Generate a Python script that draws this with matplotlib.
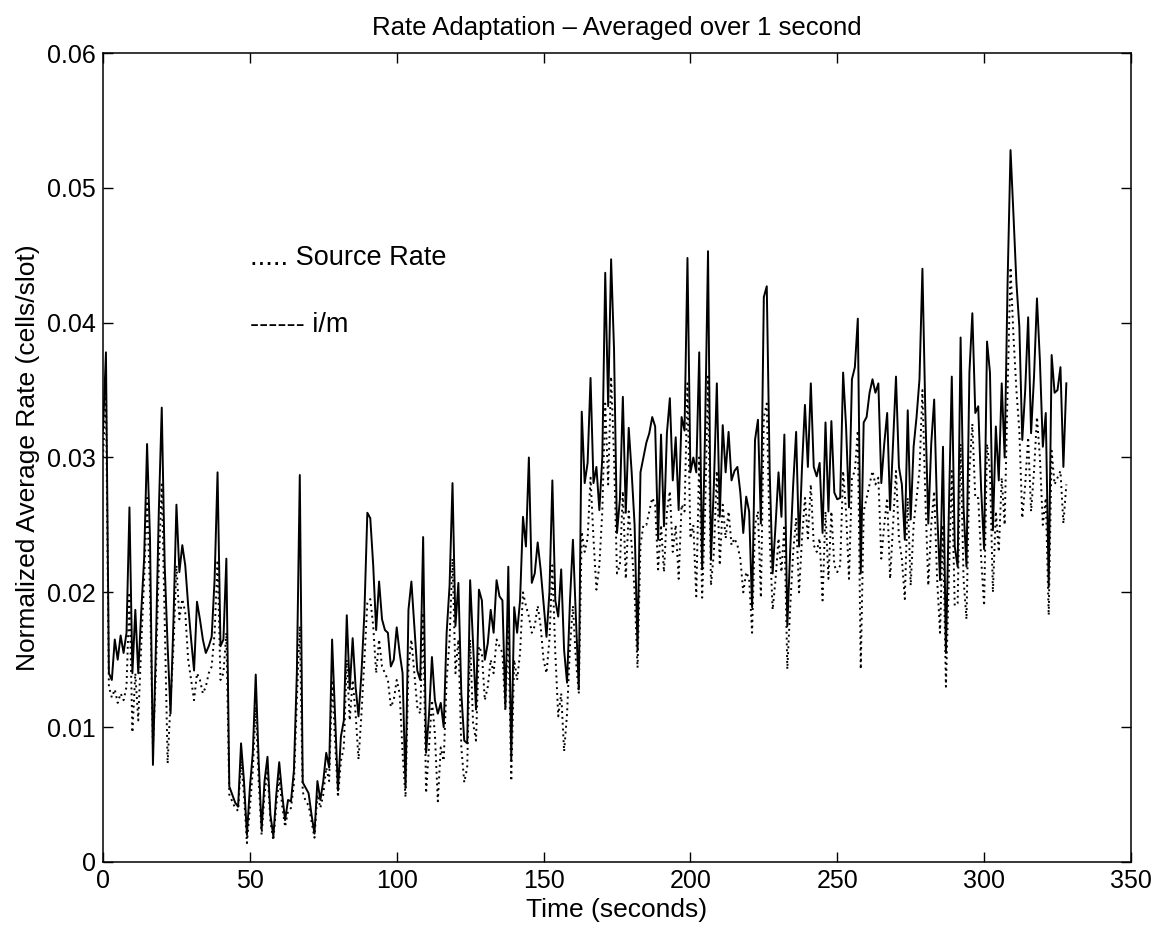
import numpy as np
import matplotlib
matplotlib.use('Agg')
import matplotlib.pyplot as plt

plt.rcParams['font.family'] = ['Liberation Sans', 'DejaVu Sans']

# i/m rate, one value per second (t = 0..328)
im_rate = [
    0.032, 0.0378, 0.014, 0.0135, 0.0165, 0.015, 0.0168, 0.0155, 0.017, 0.0263,
    0.014, 0.0187, 0.014, 0.0185, 0.0225, 0.031, 0.024, 0.0072, 0.016, 0.026,
    0.0337, 0.022, 0.016, 0.011, 0.018, 0.0265, 0.0215, 0.0235, 0.022, 0.019,
    0.0165, 0.0142, 0.0193, 0.018, 0.0165, 0.0155, 0.016, 0.0167, 0.021, 0.0289,
    0.016, 0.0165, 0.0225, 0.0056, 0.005, 0.0044, 0.0041, 0.0088, 0.006, 0.002,
    0.0055, 0.0081, 0.0139, 0.0075, 0.0024, 0.006, 0.0078, 0.0035, 0.0019, 0.005,
    0.0074, 0.005, 0.0031, 0.0046, 0.0045, 0.0068, 0.014, 0.0287, 0.0059, 0.0055,
    0.0051, 0.0035, 0.0021, 0.006, 0.0046, 0.006, 0.0081, 0.007, 0.0165, 0.011,
    0.0053, 0.0093, 0.0105, 0.0183, 0.0128, 0.0166, 0.013, 0.0108, 0.014, 0.0185,
    0.0259, 0.0255, 0.022, 0.0172, 0.0208, 0.018, 0.0172, 0.017, 0.0145, 0.015,
    0.0174, 0.0155, 0.014, 0.0055, 0.0187, 0.0208, 0.0175, 0.0142, 0.0135, 0.0241,
    0.0081, 0.0109, 0.0152, 0.012, 0.011, 0.0118, 0.01, 0.017, 0.0205, 0.0281,
    0.0175, 0.0207, 0.0125, 0.009, 0.0088, 0.0209, 0.0162, 0.0113, 0.0202, 0.0194,
    0.015, 0.0162, 0.0187, 0.017, 0.0209, 0.0197, 0.0194, 0.0115, 0.0219, 0.0076,
    0.0189, 0.017, 0.0194, 0.0256, 0.0234, 0.030, 0.0207, 0.0214, 0.0237, 0.0217,
    0.0192, 0.0167, 0.020, 0.0283, 0.0194, 0.0182, 0.0217, 0.0157, 0.0133, 0.0194,
    0.0239, 0.0182, 0.0128, 0.0334, 0.0281, 0.0296, 0.0359, 0.0281, 0.0293, 0.0261,
    0.030, 0.0437, 0.0338, 0.0447, 0.038, 0.0244, 0.0269, 0.0345, 0.0259, 0.0322,
    0.0289, 0.025, 0.0157, 0.0289, 0.030, 0.0311, 0.0318, 0.033, 0.0323, 0.0239,
    0.0317, 0.0249, 0.0318, 0.0344, 0.0283, 0.0315, 0.0261, 0.033, 0.032, 0.0448,
    0.0289, 0.030, 0.0289, 0.0378, 0.0217, 0.032, 0.0453, 0.0224, 0.028, 0.0355,
    0.0256, 0.0324, 0.0289, 0.0319, 0.0283, 0.029, 0.0293, 0.0274, 0.0244, 0.0271,
    0.026, 0.0189, 0.0313, 0.0328, 0.0251, 0.0419, 0.0427, 0.0289, 0.0214, 0.025,
    0.0289, 0.0256, 0.0317, 0.0175, 0.0232, 0.028, 0.0319, 0.0234, 0.0293, 0.0339,
    0.0293, 0.0355, 0.0293, 0.0286, 0.0296, 0.0244, 0.0326, 0.026, 0.0327, 0.0274,
    0.0269, 0.027, 0.0363, 0.0323, 0.0263, 0.0358, 0.0367, 0.0403, 0.0214, 0.0326,
    0.033, 0.0348, 0.0358, 0.0348, 0.0355, 0.0281, 0.031, 0.0333, 0.0261, 0.031,
    0.036, 0.0293, 0.028, 0.0239, 0.0335, 0.0254, 0.0308, 0.033, 0.0358, 0.044,
    0.0333, 0.0251, 0.031, 0.0343, 0.026, 0.0209, 0.0308, 0.0155, 0.026, 0.036,
    0.0234, 0.0219, 0.0389, 0.0263, 0.0219, 0.0363, 0.0407, 0.0333, 0.0338, 0.0276,
    0.0232, 0.0386, 0.0363, 0.0246, 0.0323, 0.0283, 0.0355, 0.030, 0.043, 0.0528,
    0.048, 0.043, 0.0397, 0.0313, 0.035, 0.0404, 0.0318, 0.036, 0.0418, 0.0372,
    0.0308, 0.0333, 0.0204, 0.0376, 0.0348, 0.035, 0.0367, 0.0293, 0.0355,
]

# source rate, one value per second (t = 0..328)
source_rate = [
    0.030, 0.035, 0.013, 0.0122, 0.0128, 0.0118, 0.0125, 0.012, 0.013, 0.020,
    0.0096, 0.014, 0.0105, 0.016, 0.021, 0.027, 0.020, 0.0085, 0.014, 0.022,
    0.028, 0.018, 0.0073, 0.012, 0.016, 0.022, 0.018, 0.0195, 0.0185, 0.015,
    0.0135, 0.012, 0.014, 0.0135, 0.0125, 0.013, 0.014, 0.0145, 0.017, 0.0224,
    0.0135, 0.014, 0.017, 0.005, 0.0045, 0.004, 0.0038, 0.0075, 0.005, 0.0014,
    0.004, 0.0068, 0.0115, 0.006, 0.002, 0.005, 0.0068, 0.003, 0.0016, 0.0042,
    0.0062, 0.0042, 0.0026, 0.0038, 0.004, 0.0058, 0.012, 0.0175, 0.0052, 0.0045,
    0.0042, 0.003, 0.0018, 0.005, 0.004, 0.005, 0.007, 0.006, 0.0135, 0.009,
    0.0048, 0.0075, 0.0085, 0.015, 0.0105, 0.0135, 0.011, 0.0076, 0.011, 0.015,
    0.0192, 0.0195, 0.0175, 0.014, 0.0165, 0.0145, 0.014, 0.0135, 0.0115, 0.012,
    0.0135, 0.0125, 0.0081, 0.0048, 0.0145, 0.0165, 0.014, 0.0115, 0.011, 0.0185,
    0.0051, 0.0085, 0.012, 0.0095, 0.0045, 0.0085, 0.0075, 0.0135, 0.0165, 0.0225,
    0.014, 0.0165, 0.0085, 0.0059, 0.007, 0.0165, 0.0103, 0.009, 0.016, 0.0155,
    0.012, 0.013, 0.015, 0.014, 0.0165, 0.016, 0.0155, 0.0112, 0.0175, 0.006,
    0.015, 0.0135, 0.0155, 0.020, 0.019, 0.0182, 0.017, 0.0175, 0.019, 0.0175,
    0.015, 0.014, 0.0165, 0.022, 0.0155, 0.0108, 0.0125, 0.0082, 0.011, 0.016,
    0.019, 0.015, 0.0125, 0.0245, 0.023, 0.024, 0.0285, 0.024, 0.0202, 0.022,
    0.026, 0.034, 0.028, 0.036, 0.030, 0.0214, 0.022, 0.0275, 0.021, 0.026,
    0.0235, 0.020, 0.0144, 0.0235, 0.025, 0.025, 0.026, 0.027, 0.0265, 0.0217,
    0.025, 0.0215, 0.026, 0.0275, 0.023, 0.025, 0.021, 0.0265, 0.026, 0.0355,
    0.024, 0.025, 0.0197, 0.030, 0.0196, 0.026, 0.036, 0.0205, 0.023, 0.029,
    0.022, 0.0265, 0.024, 0.026, 0.0235, 0.024, 0.0235, 0.0225, 0.020, 0.0215,
    0.021, 0.017, 0.025, 0.026, 0.0196, 0.033, 0.034, 0.024, 0.0187, 0.021,
    0.024, 0.0215, 0.025, 0.0143, 0.019, 0.023, 0.0255, 0.020, 0.024, 0.027,
    0.024, 0.028, 0.0235, 0.023, 0.024, 0.0194, 0.026, 0.021, 0.026, 0.022,
    0.0215, 0.022, 0.029, 0.026, 0.021, 0.0285, 0.029, 0.032, 0.0143, 0.026,
    0.027, 0.028, 0.029, 0.028, 0.0285, 0.0225, 0.025, 0.027, 0.021, 0.025,
    0.029, 0.024, 0.0225, 0.0195, 0.027, 0.0205, 0.025, 0.027, 0.029, 0.035,
    0.027, 0.0205, 0.025, 0.0275, 0.021, 0.017, 0.025, 0.013, 0.021, 0.029,
    0.019, 0.0192, 0.031, 0.021, 0.018, 0.029, 0.0325, 0.027, 0.027, 0.0225,
    0.019, 0.031, 0.029, 0.020, 0.026, 0.023, 0.0285, 0.025, 0.035, 0.0441,
    0.039, 0.035, 0.032, 0.0255, 0.028, 0.0315, 0.026, 0.029, 0.033, 0.030,
    0.025, 0.027, 0.0183, 0.0305, 0.028, 0.0285, 0.029, 0.0251, 0.028,
]

time_s = np.arange(len(im_rate))

fig = plt.figure(figsize=(11.64, 9.35), dpi=100)
ax = fig.add_axes([0.0885, 0.0781, 0.8831, 0.8652])

ax.plot(time_s, source_rate, color='black', linestyle=(0, (1, 2.0)), linewidth=1.4)
ax.plot(time_s, im_rate, color='black', linestyle='-', linewidth=1.4)

ax.set_xlim(0, 350)
ax.set_ylim(0, 0.06)
ax.set_xticks([0, 50, 100, 150, 200, 250, 300, 350])
ax.set_yticks([0, 0.01, 0.02, 0.03, 0.04, 0.05, 0.06])
ax.set_yticklabels(['0', '0.01', '0.02', '0.03', '0.04', '0.05', '0.06'])
ax.tick_params(direction='in', top=True, right=True, length=7, width=1,
               labelsize=18, pad=5)
for s in ax.spines.values():
    s.set_linewidth(1.1)

ax.set_title('Rate Adaptation \u2013 Averaged over 1 second', fontsize=18.5, pad=13)
ax.set_xlabel('Time (seconds)', fontsize=19, labelpad=4)
ax.set_ylabel('Normalized Average Rate (cells/slot)', fontsize=19, labelpad=5)

# hand-made legend as in the original
ax.text(0.143, 0.7466, '..... Source Rate', transform=ax.transAxes,
        fontsize=19.5, va='center', ha='left')
ax.text(0.143, 0.6638, '------ i/m', transform=ax.transAxes,
        fontsize=19.5, va='center', ha='left')

plt.savefig('out.png', dpi=100)
